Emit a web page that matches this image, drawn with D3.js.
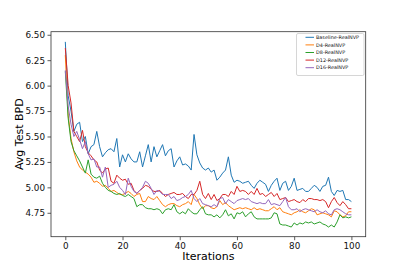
<!DOCTYPE html>
<html>
<head>
<meta charset="utf-8">
<script src="https://cdn.jsdelivr.net/npm/d3@7"></script>
<style>
    body { margin: 0; background: #fff; }
    text { font-family: "DejaVu Sans", sans-serif; }
</style>
</head>
<body>
<div id="chart"></div>
<script>

// Data: avg test BPD per iteration (0..100)

let iterations = d3.range(0, 101);

let seriesNames = ["Baseline-RealNVP", "D4-RealNVP", "D8-RealNVP", "D12-RealNVP", "D16-RealNVP"];

let seriesColors = ["#1f77b4", "#ff7f0e", "#2ca02c", "#d62728", "#9467bd"];

let baseline = [
    6.43, 5.90, 5.75, 5.55, 5.62, 5.64, 5.45, 5.50, 5.33, 5.40,
    5.42, 5.55, 5.40, 5.30, 5.34, 5.37, 5.38, 5.35, 5.48, 5.20,
    5.32, 5.25, 5.33, 5.28, 5.25, 5.25, 5.35, 5.20, 5.31, 5.42,
    5.25, 5.40, 5.30, 5.36, 5.42, 5.31, 5.36, 5.38, 5.20, 5.26,
    5.30, 5.22, 5.23, 5.21, 5.17, 5.52, 5.32, 5.24, 5.19, 5.17,
    5.19, 5.15, 5.17, 5.07, 5.10, 5.14, 5.17, 5.30, 5.12, 5.05,
    5.07, 5.06, 5.04, 5.05, 5.06, 5.02, 4.99, 5.04, 5.07, 5.05,
    5.03, 4.96, 5.02, 5.06, 5.09, 4.97, 5.04, 5.06, 4.97, 5.01,
    5.09, 4.97, 4.98, 4.99, 4.96, 4.96, 4.99, 5.02, 5.00, 4.96,
    5.01, 5.02, 5.10, 4.96, 4.92, 4.97, 4.96, 4.97, 4.88, 4.88,
    4.86
];

let d4 = [
    6.30, 5.71, 5.48, 5.35, 5.26, 5.20, 5.17, 5.15, 5.13, 5.10,
    5.05, 5.06, 5.04, 5.01, 5.02, 4.99, 4.96, 4.97, 4.95, 4.93,
    4.93, 4.94, 4.96, 4.94, 4.91, 4.93, 4.94, 4.86, 4.86, 4.91,
    4.89, 4.88, 4.91, 4.87, 4.83, 4.81, 4.83, 4.84, 4.84, 4.82,
    4.81, 4.83, 4.84, 4.86, 4.83, 4.93, 4.89, 4.83, 4.79, 4.82,
    4.82, 4.80, 4.79, 4.81, 4.87, 4.83, 4.85, 4.82, 4.80, 4.78,
    4.79, 4.80, 4.79, 4.80, 4.79, 4.78, 4.80, 4.78, 4.79, 4.78,
    4.77, 4.77, 4.79, 4.81, 4.78, 4.80, 4.76, 4.75, 4.74, 4.73,
    4.75, 4.76, 4.78, 4.76, 4.75, 4.77, 4.79, 4.78, 4.73, 4.74,
    4.75, 4.74, 4.73, 4.71, 4.77, 4.76, 4.73, 4.71, 4.72, 4.76,
    4.76
];

let d8 = [
    6.14, 5.68, 5.45, 5.36, 5.31, 5.26, 5.20, 5.14, 5.27, 5.13,
    5.10, 5.09, 5.11, 5.04, 5.00, 4.97, 4.96, 4.94, 4.93, 4.94,
    4.92, 4.91, 4.93, 4.91, 4.89, 4.81, 4.83, 4.83, 4.80, 4.79,
    4.79, 4.78, 4.79, 4.78, 4.74, 4.78, 4.79, 4.78, 4.83, 4.76,
    4.74, 4.76, 4.74, 4.79, 4.76, 4.74, 4.74, 4.78, 4.81, 4.74,
    4.73, 4.73, 4.71, 4.73, 4.70, 4.73, 4.78, 4.72, 4.74, 4.69,
    4.75, 4.74, 4.76, 4.71, 4.74, 4.76, 4.71, 4.69, 4.69, 4.69,
    4.69, 4.69, 4.70, 4.75, 4.74, 4.64, 4.63, 4.63, 4.62, 4.61,
    4.65, 4.63, 4.65, 4.64, 4.66, 4.65, 4.66, 4.64, 4.65, 4.66,
    4.64, 4.63, 4.61, 4.63, 4.61, 4.66, 4.73, 4.70, 4.71, 4.70,
    4.71
];

let d12 = [
    6.37, 6.00, 5.83, 5.55, 5.50, 5.45, 5.56, 5.40, 5.34, 5.31,
    5.27, 5.25, 5.17, 5.14, 5.18, 5.19, 5.06, 5.04, 5.12, 5.09,
    5.07, 5.08, 5.03, 5.04, 4.97, 4.94, 4.97, 4.99, 5.02, 5.01,
    4.98, 4.96, 4.96, 4.97, 4.94, 4.91, 4.93, 4.94, 4.95, 4.93,
    4.93, 4.94, 4.91, 4.89, 4.93, 4.93, 4.97, 5.06, 4.93, 4.89,
    4.94, 4.88, 4.93, 4.87, 4.89, 4.93, 4.93, 4.91, 4.96, 4.93,
    5.01, 4.96, 4.97, 4.96, 4.93, 4.96, 4.93, 4.99, 4.93, 4.94,
    4.91, 4.93, 4.95, 4.91, 4.94, 4.88, 4.89, 4.90, 4.86, 4.87,
    4.88, 4.86, 4.85, 4.88, 4.86, 4.89, 4.89, 4.88, 4.88, 4.87,
    4.88, 4.86, 4.80, 4.86, 4.90, 4.85, 4.82, 4.86, 4.83, 4.79,
    4.79
];

let d16 = [
    6.15, 5.80, 5.62, 5.50, 5.55, 5.47, 5.38, 5.45, 5.33, 5.27,
    5.28, 5.20, 5.20, 5.10, 5.20, 5.00, 5.02, 5.03, 5.06, 5.00,
    4.97, 4.93, 5.09, 5.01, 4.96, 4.94, 4.97, 5.00, 5.06, 5.04,
    4.99, 4.93, 4.97, 4.96, 4.93, 4.93, 4.93, 4.89, 4.91, 4.87,
    4.88, 4.90, 4.91, 4.93, 4.97, 4.89, 4.86, 4.89, 4.84, 4.83,
    4.82, 4.81, 4.83, 4.81, 4.89, 4.90, 4.84, 4.88, 4.86, 4.84,
    4.87, 4.88, 4.89, 4.88, 4.89, 4.86, 4.85, 4.84, 4.85, 4.84,
    4.84, 4.88, 4.83, 4.84, 4.83, 4.82, 4.86, 4.90, 4.81, 4.78,
    4.78, 4.79, 4.76, 4.78, 4.79, 4.78, 4.77, 4.76, 4.78, 4.76,
    4.75, 4.77, 4.74, 4.73, 4.78, 4.79, 4.78, 4.76, 4.74, 4.73,
    4.73
];

let seriesValues = [baseline, d4, d8, d12, d16];

let xTicks = [0, 20, 40, 60, 80, 100];
let yTicks = [4.75, 5.00, 5.25, 5.50, 5.75, 6.00, 6.25, 6.50];

// Layout

let WIDTH = 407,
    HEIGHT = 271,
    LEFT = 51,
    RIGHT = 365.7,
    TOP = 31.7,
    BOTTOM = 236.7
;

let svg = d3.select('#chart')
    .append('svg')
    .attr('width', WIDTH)
    .attr('height', HEIGHT);

let x = d3.scaleLinear().domain([-5, 105]).range([LEFT, RIGHT]);
let y = d3.scaleLinear().domain([4.515, 6.53]).range([BOTTOM, TOP]);

// Axes

let xAxis = svg.append('g')
    .attr('transform', `translate(0,${BOTTOM})`)
    .call(d3.axisBottom(x).tickValues(xTicks).tickSize(3.5).tickPadding(2.5));

let yAxis = svg.append('g')
    .attr('transform', `translate(${LEFT},0)`)
    .call(d3.axisLeft(y).tickValues(yTicks).tickFormat(d3.format('.2f')).tickSize(3.5).tickPadding(2.5));

[xAxis, yAxis].forEach(function (g) {
    g.select('.domain').remove();
    g.selectAll('.tick line').attr('stroke', '#333').attr('stroke-width', 0.8);
    g.selectAll('.tick text')
        .attr('fill', '#111')
        .style('font-size', '8.8px')
        .style('font-family', '"DejaVu Sans", sans-serif');
});

// Lines

let line = d3.line()
    .x(function (d, i) { return x(iterations[i]); })
    .y(function (d) { return y(d); });

svg.append('g')
    .selectAll('path')
    .data(seriesValues)
    .enter()
    .append('path')
    .attr('d', line)
    .attr('fill', 'none')
    .attr('stroke', function (d, i) { return seriesColors[i]; })
    .attr('stroke-width', 1)
    .attr('stroke-linejoin', 'round');

// Frame

svg.append('rect')
    .attr('x', LEFT)
    .attr('y', TOP)
    .attr('width', RIGHT - LEFT)
    .attr('height', BOTTOM - TOP)
    .attr('fill', 'none')
    .attr('stroke', '#333')
    .attr('stroke-width', 0.8);

// Axis labels

svg.append('text')
    .attr('x', (LEFT + RIGHT) / 2)
    .attr('y', 259.5)
    .attr('text-anchor', 'middle')
    .style('font-size', '11px')
    .text('Iterations');

svg.append('text')
    .attr('transform', `translate(23,${(TOP + BOTTOM) / 2}) rotate(-90)`)
    .attr('text-anchor', 'middle')
    .style('font-size', '11px')
    .text('Avg Test BPD');

// Legend

let legend = svg.append('g');

legend.append('rect')
    .attr('x', 296.5)
    .attr('y', 33.5)
    .attr('width', 67.5)
    .attr('height', 42)
    .attr('rx', 1.5)
    .attr('fill', '#fff')
    .attr('stroke', '#ccc')
    .attr('stroke-width', 0.8);

let rows = legend.selectAll('.row')
    .data(seriesNames)
    .enter()
    .append('g')
    .attr('transform', function (d, i) { return `translate(0,${37.3 + i * 7.6})`; });

rows.append('line')
    .attr('x1', 305.5)
    .attr('x2', 314)
    .attr('stroke', function (d, i) { return seriesColors[i]; })
    .attr('stroke-width', 1);

rows.append('text')
    .attr('x', 316)
    .attr('y', 1.7)
    .style('font-size', '4.9px')
    .attr('fill', '#111')
    .text(function (d) { return d; });

</script>
</body>
</html>
